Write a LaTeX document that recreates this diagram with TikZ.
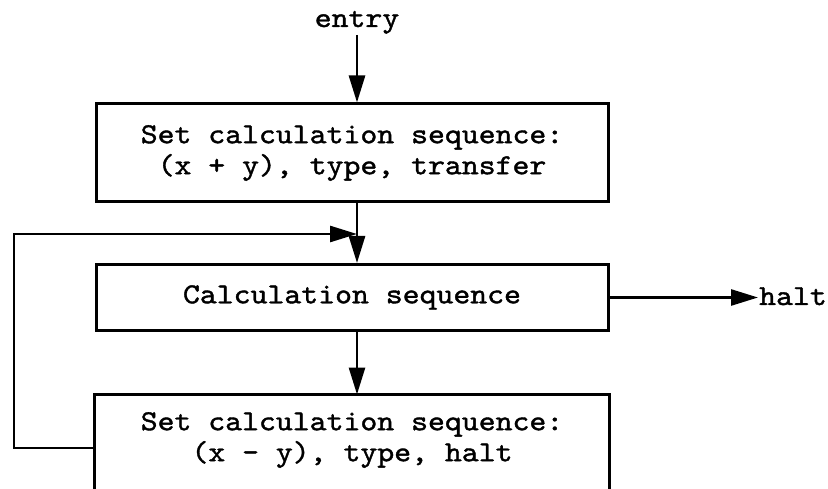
\documentclass[tikz,border=0pt]{standalone}
\usepackage{fontspec}
\setmonofont{lmmono10-regular}[Extension=.otf,FakeStretch=1.11,FakeBold=1.3]
\usetikzlibrary{arrows.meta}
\newcommand\twfont{\ttfamily\fontsize{29}{31}\selectfont}
\begin{document}
\begin{tikzpicture}[x=1pt,y=-1pt,
  box/.style={draw, line width=3pt, minimum width=512pt, align=center, inner sep=0pt, font=\twfont},
  arr/.style={-{Triangle[length=27pt,width=16pt]}, line width=2.7pt},
  lbl/.style={font=\twfont, inner sep=1pt}]
\useasboundingbox[fill=white] (0,0) rectangle (828,489);
\node[lbl, anchor=base] (entry) at (357,27) {entry};
\node[box, minimum height=98pt] (b1) at (352,153) {Set calculation sequence:\\(x + y), type, transfer};
\node[box, minimum height=66pt] (b2) at (352,297.5) {Calculation sequence};
\node[box, draw=none, minimum height=88pt] (b3) at (352,440) {Set calculation sequence:\\(x - y), type, halt};
\draw[line width=3pt] ([yshift=-40pt]b3.south west) -- (b3.north west) -- (b3.north east) -- ([yshift=-40pt]b3.south east);
\node[lbl, anchor=base west] (halt) at (758,305) {halt};
\coordinate (cx) at (357,0);
\coordinate (lb) at (14,448);
\coordinate (lt) at (14,234);
\draw[arr] (entry.south) -- (entry.south |- b1.north);
\draw[arr] (b1.south -| cx) -- (b2.north -| cx);
\draw[arr] (b2.south -| cx) -- (b3.north -| cx);
\draw[arr] (b2.east) -- (b2.east -| halt.west);
\draw[arr] (b3.west |- lb) -- (lb) -- (lt) -- (lt -| cx);
\end{tikzpicture}
\end{document}
